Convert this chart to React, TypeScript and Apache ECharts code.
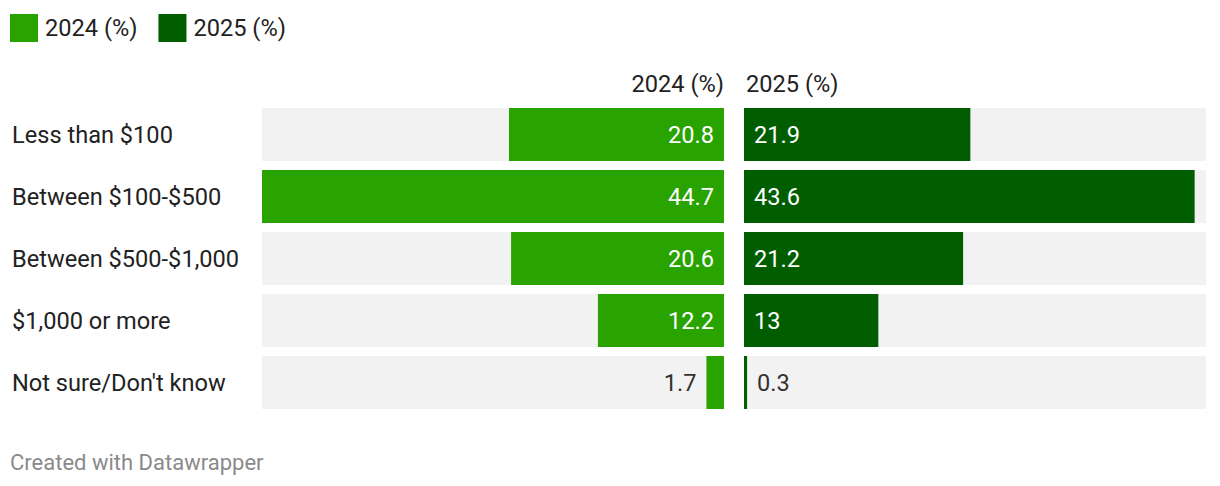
import React, { useEffect, useRef } from "react";
import * as echarts from "echarts";

const categories = ["Less than $100", "Between $100-$500", "Between $500-$1,000", "$1,000 or more", "Not sure/Don't know"];
const values2024 = [20.8, 44.7, 20.6, 12.2, 1.7];
const values2025 = [21.9, 43.6, 21.2, 13, 0.3];
const seriesNames = ["2024 (%)", "2025 (%)"];
const axisMax = 44.7;

const C2024 = "#29a300";
const C2025 = "#005e00";
const FONT = "Roboto, 'Noto Sans', sans-serif";
const TXT = "#222";
const FS = 23.6;

export default function App() {
  const ref = useRef<HTMLDivElement>(null);
  useEffect(() => {
    if (!ref.current) return;
    const chart = echarts.init(ref.current, undefined, { renderer: "svg" });
    const small = (v: number) => v < 5;
    chart.setOption({
      animation: false,
      textStyle: { fontFamily: FONT },
      legend: {
        left: 10,
        top: 14,
        padding: 0,
        icon: "rect",
        itemWidth: 28,
        itemHeight: 28,
        itemGap: 21,
        textStyle: { fontSize: FS, color: TXT, fontFamily: FONT, padding: [0, 0, 0, 2] },
        data: seriesNames,
        selectedMode: false,
      },
      grid: [
        { left: 262, width: 462, top: 103.5, height: 310 },
        { left: 744, width: 462, top: 103.5, height: 310 },
      ],
      xAxis: [
        { gridIndex: 0, type: "value", min: 0, max: axisMax, inverse: true, show: false },
        { gridIndex: 1, type: "value", min: 0, max: axisMax, show: false },
      ],
      yAxis: [
        {
          gridIndex: 0,
          type: "category",
          data: categories,
          inverse: true,
          axisLine: { show: false },
          axisTick: { show: false },
          axisLabel: { align: "left", margin: 250, fontSize: FS, color: TXT, fontFamily: FONT },
        },
        {
          gridIndex: 1,
          type: "category",
          data: categories,
          inverse: true,
          show: false,
        },
      ],
      series: [
        {
          name: seriesNames[0],
          type: "bar",
          xAxisIndex: 0,
          yAxisIndex: 0,
          barWidth: 53,
          itemStyle: { color: C2024 },
          showBackground: true,
          backgroundStyle: { color: "#f2f2f2" },
          data: values2024.map((v) => ({
            value: v,
            label: small(v)
              ? { show: true, position: "left", distance: 10, color: "#333" }
              : { show: true, position: "insideRight", distance: 10, color: "#fff" },
          })),
          label: { show: true, fontSize: FS, fontFamily: FONT },
        },
        {
          name: seriesNames[1],
          type: "bar",
          xAxisIndex: 1,
          yAxisIndex: 1,
          barWidth: 53,
          itemStyle: { color: C2025 },
          showBackground: true,
          backgroundStyle: { color: "#f2f2f2" },
          data: values2025.map((v) => ({
            value: v,
            label: small(v)
              ? { show: true, position: "right", distance: 10, color: "#333" }
              : { show: true, position: "insideLeft", distance: 10, color: "#fff" },
          })),
          label: { show: true, fontSize: FS, fontFamily: FONT },
        },
      ],
      graphic: [
        {
          type: "text",
          x: 724,
          y: 84,
          style: { text: seriesNames[0], align: "right", verticalAlign: "middle", fontSize: FS, fill: TXT, fontFamily: FONT },
        },
        {
          type: "text",
          x: 746,
          y: 84,
          style: { text: seriesNames[1], align: "left", verticalAlign: "middle", fontSize: FS, fill: TXT, fontFamily: FONT },
        },
        {
          type: "text",
          x: 10,
          y: 462,
          style: { text: "Created with Datawrapper", align: "left", verticalAlign: "middle", fontSize: 22, fill: "#8a8a8a", fontFamily: FONT },
        },
      ],
    });
    return () => chart.dispose();
  }, []);
  return (
    <div
      ref={ref}
      style={{ position: "fixed", left: 0, top: 0, width: 1220, height: 486, background: "#fff" }}
    />
  );
}
